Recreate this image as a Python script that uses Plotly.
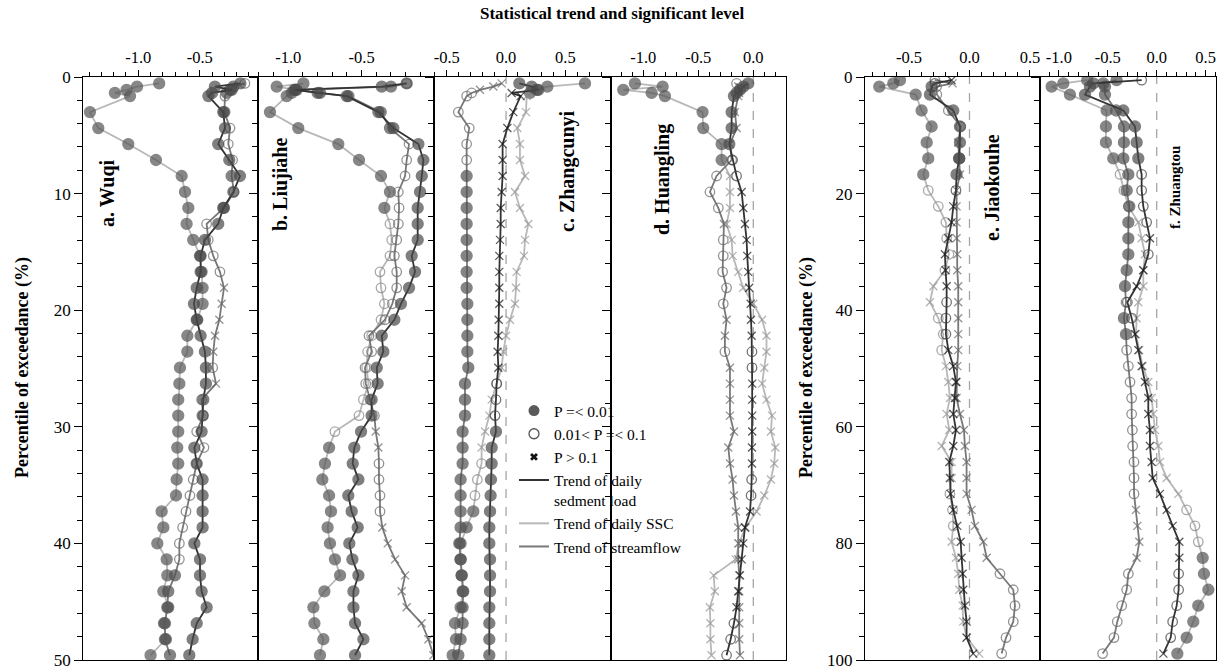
import plotly.graph_objects as go

# ---------------- data ----------------
# percentile of exceedance (%) of the plotted points
PCT_AD = [0.55, 0.82, 1.10, 1.37, 1.64, 3.01, 4.38, 5.75, 7.12, 8.49, 9.86, 11.23, 12.60, 13.97,
          15.34, 16.71, 18.08, 19.45, 20.82, 22.19, 23.56, 24.93, 26.30, 27.67, 29.04, 30.41,
          31.78, 33.15, 34.52, 35.89, 37.26, 38.63, 40.00, 41.37, 42.74, 44.11, 45.48, 46.85,
          48.22, 49.59]
PCT_EF = [0.55, 1.10, 1.64, 3.01, 5.75, 8.49, 11.23, 13.97, 16.71, 19.45, 22.19, 24.93, 27.67,
          30.41, 33.15, 35.89, 38.63, 41.37, 44.11, 46.85, 49.59, 52.33, 55.07, 57.81, 60.55,
          63.29, 66.03, 68.77, 71.51, 74.25, 76.99, 79.73, 82.47, 85.21, 87.95, 90.68, 93.42,
          96.16, 98.90]

# significance classes: f = P=<0.01, o = 0.01<P=<0.1, x = P>0.1
# a. Wuqi
WUQI_LOAD = [-0.17, -0.377, -0.24, -0.40, -0.43, -0.309, -0.295, -0.35, -0.26, -0.173, -0.227,
             -0.309, -0.35, -0.458, -0.493, -0.493, -0.525, -0.547, -0.525, -0.493, -0.458, -0.45,
             -0.45, -0.471, -0.477, -0.485, -0.544, -0.525, -0.477, -0.477, -0.477, -0.477, -0.544,
             -0.498, -0.498, -0.485, -0.444, -0.525, -0.558, -0.585]
WUQI_LOAD_P = "f" * 40
WUQI_SSC = [-0.83, -1.01, -1.095, -1.19, -1.067, -1.393, -1.325, -1.081, -0.856, -0.647, -0.62,
            -0.593, -0.607, -0.553, -0.498, -0.485, -0.477, -0.477, -0.52, -0.601, -0.601, -0.661,
            -0.666, -0.675, -0.675, -0.675, -0.683, -0.675, -0.688, -0.693, -0.81, -0.796, -0.845,
            -0.769, -0.764, -0.796, -0.756, -0.791, -0.775, -0.90]
WUQI_SSC_P = "f" * 40
WUQI_Q = [-0.133, -0.227, -0.254, -0.282, -0.295, -0.30, -0.254, -0.268, -0.233, -0.241, -0.222,
          -0.303, -0.444, -0.431, -0.39, -0.336, -0.303, -0.322, -0.341, -0.376, -0.39, -0.395,
          -0.368, -0.485, -0.471, -0.525, -0.466, -0.525, -0.553, -0.58, -0.612, -0.639, -0.666,
          -0.666, -0.702, -0.756, -0.764, -0.783, -0.783, -0.742]
WUQI_Q_P = "offfo" "fooofofoooo" "xxxxx" "o" "x" "ooooooooooo" "ffffff"

# b. Liujiahe
LIU_LOAD = [-0.193, -0.363, -0.959, -0.784, -0.602, -0.386, -0.284, -0.113, -0.079, -0.09, -0.102,
            -0.118, -0.118, -0.118, -0.159, -0.136, -0.177, -0.232, -0.277, -0.363, -0.352, -0.397,
            -0.391, -0.432, -0.432, -0.504, -0.55, -0.561, -0.522, -0.591, -0.568, -0.527, -0.584,
            -0.563, -0.522, -0.556, -0.556, -0.545, -0.488, -0.545]
LIU_LOAD_P = "f" * 40
LIU_SSC = [-0.897, -1.079, -0.943, -0.977, -1.011, -1.125, -0.932, -0.659, -0.518, -0.368, -0.307,
           -0.345, -0.307, -0.295, -0.307, -0.375, -0.368, -0.345, -0.368, -0.432, -0.459, -0.466,
           -0.454, -0.488, -0.518, -0.682, -0.722, -0.75, -0.768, -0.722, -0.709, -0.732, -0.716,
           -0.682, -0.647, -0.754, -0.829, -0.822, -0.761, -0.784]
LIU_SSC_P = "fffff" "fffffff" "oooo" "oooooooooo" "ffffffffffffff"
LIU_Q = [-0.193, -0.30, -0.95, -0.80, -0.59, -0.37, -0.307, -0.177, -0.193, -0.204, -0.25, -0.245,
         -0.25, -0.261, -0.277, -0.261, -0.261, -0.291, -0.341, -0.45, -0.432, -0.477, -0.472,
         -0.443, -0.413, -0.404, -0.386, -0.382, -0.382, -0.375, -0.375, -0.359, -0.322, -0.272,
         -0.204, -0.227, -0.193, -0.091, -0.045, -0.011]
LIU_Q_P = "offff" "ff" "ooooooooo" "ooooooooo" "xx" "oooo" "xxxxxxxxx"

# c. Zhangcunyi
ZH_LOAD = [0.112, 0.216, 0.272, 0.047, 0.123, 0.061, 0.011, -0.029, -0.029, -0.029, -0.037, -0.045,
           -0.045, -0.051, -0.057, -0.057, -0.057, -0.057, -0.062, -0.065, -0.071, -0.065, -0.079,
           -0.085, -0.093, -0.085, -0.121, -0.121, -0.127, -0.13, -0.135, -0.141, -0.141, -0.135,
           -0.135, -0.135, -0.141, -0.141, -0.141, -0.141]
ZH_LOAD_P = "fffxx" "xxxxxxxxxxx" "xxxxxx" "ooo" "fffffffffffffff"
ZH_SSC = [0.665, 0.348, 0.258, 0.202, 0.174, 0.168, 0.095, 0.117, 0.117, 0.16, 0.075, 0.117, 0.188,
          0.16, 0.151, 0.089, 0.084, 0.075, 0.033, 0.0, -0.023, -0.037, -0.079, -0.121, -0.141,
          -0.177, -0.206, -0.206, -0.242, -0.262, -0.276, -0.332, -0.383, -0.383, -0.374, -0.366,
          -0.383, -0.43, -0.422, -0.45]
ZH_SSC_P = "ffffx" "xxxxxxxxxxx" "xxxxxx" "o" "xxxx" "ooo" "ffffffffff"
ZH_Q = [-0.037, -0.107, -0.22, -0.29, -0.332, -0.402, -0.31, -0.332, -0.332, -0.332, -0.332,
        -0.332, -0.332, -0.332, -0.332, -0.332, -0.332, -0.326, -0.326, -0.326, -0.326, -0.318,
        -0.346, -0.346, -0.346, -0.366, -0.366, -0.366, -0.383, -0.383, -0.383, -0.383, -0.394,
        -0.383, -0.374, -0.36, -0.366, -0.366, -0.383, -0.402]
ZH_Q_P = "xxxoo" "oooo" + "f" * 31

# d. Huangling
HL_LOAD = [-0.046, -0.091, -0.121, -0.152, -0.176, -0.197, -0.197, -0.218, -0.188, -0.152, -0.106,
           -0.091, -0.076, -0.061, -0.055, -0.046, -0.037, -0.024, -0.021, -0.015, -0.012, -0.012,
           -0.01, -0.01, -0.01, -0.01, -0.012, -0.012, -0.015, -0.02, -0.03, -0.076, -0.091,
           -0.106, -0.121, -0.137, -0.152, -0.176, -0.206, -0.243]
HL_LOAD_P = "fffff" "fff" "oo" "xxxxxxxxxx" "oo" "xxxxxx" "oo" "xxxxxxx" "ooo"
HL_SSC = [-1.076, -0.824, -1.182, -0.924, -0.803, -0.461, -0.455, -0.288, -0.288, -0.212, -0.212,
          -0.212, -0.243, -0.197, -0.188, -0.137, -0.091, 0.0, 0.08, 0.12, 0.12, 0.10, 0.08, 0.12,
          0.17, 0.16, 0.20, 0.19, 0.16, 0.10, 0.03, -0.07, -0.13, -0.16, -0.36, -0.35, -0.395,
          -0.39, -0.39, -0.38]
HL_SSC_P = "fffff" "ffff" + "x" * 31
HL_Q = [-0.152, -0.137, -0.13, -0.13, -0.137, -0.167, -0.152, -0.212, -0.197, -0.334, -0.394,
        -0.318, -0.267, -0.273, -0.273, -0.279, -0.243, -0.273, -0.243, -0.258, -0.258, -0.212,
        -0.212, -0.212, -0.212, -0.176, -0.227, -0.212, -0.188, -0.176, -0.158, -0.137, -0.137,
        -0.137, -0.128, -0.128, -0.128, -0.128, -0.128, -0.121]
HL_Q_P = "oxxxx" "xxx" "oooo" "x" "ooooo" "xx" "o" + "x" * 19

# e. Jiaokouhe
JK_LOAD = [-0.148, -0.286, -0.313, -0.327, -0.134, -0.079, -0.079, -0.085, -0.107, -0.112, -0.134,
           -0.148, -0.175, -0.203, -0.198, -0.189, -0.189, -0.195, -0.195, -0.175, -0.134, -0.112,
           -0.12, -0.134, -0.112, -0.134, -0.167, -0.162, -0.156, -0.134, -0.101, -0.073, -0.065,
           -0.057, -0.052, -0.038, -0.024, -0.024, 0.031]
JK_LOAD_P = "xof" "ffffff" "o" "xxxxxx" "ooo" + "x" * 20
JK_SSC = [-0.575, -0.63, -0.746, -0.445, -0.396, -0.313, -0.354, -0.341, -0.382, -0.341, -0.258,
          -0.195, -0.189, -0.17, -0.203, -0.299, -0.327, -0.258, -0.217, -0.23, -0.195, -0.175,
          -0.162, -0.189, -0.167, -0.23, -0.148, -0.148, -0.162, -0.14, -0.134, -0.148, -0.112,
          -0.093, -0.085, -0.057, -0.052, -0.024, 0.081]
JK_SSC_P = "fff" "ffffff" "oooooo" "xx" "ooo" "xxxxxxxx" "ooo" "xxxxxxxx"
JK_Q = [-0.286, -0.14, -0.272, -0.27, -0.175, -0.073, -0.093, -0.085, -0.079, -0.107, -0.107,
        -0.107, -0.107, -0.101, -0.101, -0.093, -0.093, -0.093, -0.093, -0.093, -0.101, -0.107,
        -0.107, -0.079, -0.046, -0.038, -0.024, -0.024, -0.024, 0.017, 0.045, 0.114, 0.142, 0.252,
        0.362, 0.376, 0.362, 0.302, 0.266]
JK_Q_P = "oxo" "ooo" "x" "f" + "x" * 25 + "o" * 6

# f. Zhuangtou
ZT_LOAD = [-0.154, -0.648, -0.682, -0.733, -0.341, -0.222, -0.205, -0.188, -0.154, -0.154, -0.137,
           -0.103, -0.069, -0.086, -0.137, -0.205, -0.30, -0.256, -0.222, -0.188, -0.154, -0.12,
           -0.086, -0.086, -0.069, -0.069, -0.052, -0.041, 0.033, 0.102, 0.163, 0.231, 0.231, 0.224,
           0.224, 0.204, 0.163, 0.143, 0.068]
ZT_LOAD_P = "off" "fffff" "oooo" "x" "o" "xx" "oo" + "x" * 15 + "ooooo" "x"
ZT_SSC = [-0.71, -0.955, -1.074, -0.887, -0.512, -0.519, -0.519, -0.444, -0.375, -0.335, -0.29,
          -0.188, -0.154, -0.12, -0.137, -0.137, -0.188, -0.205, -0.212, -0.178, -0.144, -0.086,
          -0.052, -0.035, -0.018, 0.016, 0.033, 0.102, 0.221, 0.306, 0.391, 0.425, 0.47, 0.483,
          0.528, 0.425, 0.374, 0.306, 0.211]
ZT_SSC_P = "fff" "fffff" "ooo" + "x" * 18 + "ooo" + "f" * 7
ZT_Q = [-0.41, -0.546, -0.529, -0.529, -0.416, -0.335, -0.335, -0.341, -0.29, -0.307, -0.28, -0.29,
        -0.29, -0.29, -0.307, -0.324, -0.314, -0.335, -0.314, -0.307, -0.29, -0.273, -0.256,
        -0.256, -0.249, -0.246, -0.232, -0.232, -0.232, -0.212, -0.198, -0.178, -0.205, -0.29,
        -0.307, -0.358, -0.403, -0.437, -0.553]
ZT_Q_P = "fff" + "f" * 12 + "f" "o" "ff" + "o" * 10 + "xxxx" + "o" * 6

PANEL_LABELS = ["a. Wuqi", "b. Liujiahe", "c. Zhangcunyi", "d. Huangling", "e. Jiaokouhe", "f. Zhuangtou"]
X_TICKS = [[-1.0, -0.5], [-1.0, -0.5], [-0.5, 0.0, 0.5], [-1.0, -0.5, 0.0], [-0.5, 0.0, 0.5],
           [-1.0, -0.5, 0.0, 0.5]]
X_TICKTEXT = [["-1.0", "-0.5"], ["-1.0", "-0.5"], ["-0.5", "0.0", "0.5"], ["-1.0", "-0.5", "0.0"],
              ["-0.5", "0.0", "0.5"], ["-1.0", "-0.5", "0.0", "0.5"]]
Y_TICKS_AD = [0, 10, 20, 30, 40, 50]
Y_TICKS_EF = [0, 20, 40, 60, 80, 100]
LEGEND_NAMES = ["P =< 0.01", "0.01< P =< 0.1", "P > 0.1", "Trend of daily<br>sedment load",
                "Trend of daily SSC", "Trend of streamflow"]

PANELS = [
    (PCT_AD, [(WUQI_SSC, WUQI_SSC_P, "ssc"), (WUQI_Q, WUQI_Q_P, "flow"), (WUQI_LOAD, WUQI_LOAD_P, "load")]),
    (PCT_AD, [(LIU_SSC, LIU_SSC_P, "ssc"), (LIU_Q, LIU_Q_P, "flow"), (LIU_LOAD, LIU_LOAD_P, "load")]),
    (PCT_AD, [(ZH_SSC, ZH_SSC_P, "ssc"), (ZH_Q, ZH_Q_P, "flow"), (ZH_LOAD, ZH_LOAD_P, "load")]),
    (PCT_AD, [(HL_SSC, HL_SSC_P, "ssc"), (HL_Q, HL_Q_P, "flow"), (HL_LOAD, HL_LOAD_P, "load")]),
    (PCT_EF, [(JK_SSC, JK_SSC_P, "ssc"), (JK_Q, JK_Q_P, "flow"), (JK_LOAD, JK_LOAD_P, "load")]),
    (PCT_EF, [(ZT_SSC, ZT_SSC_P, "ssc"), (ZT_Q, ZT_Q_P, "flow"), (ZT_LOAD, ZT_LOAD_P, "load")]),
]

# ---------------- layout / style ----------------
W, H = 1225, 670
FONT = "Liberation Serif"


def fx(p):
    return p / W


def fy(p):
    return 1 - p / H


PANEL_PX = [(83.3, 258.3), (258.3, 434.0), (434.0, 610.7), (610.7, 785.7), (865.0, 1040.0), (1040.0, 1216.0)]
X_RANGES = [(-1.447, -0.024), (-1.2045, -0.0068), (-0.607, 0.8816), (-1.296, 0.2945), (-0.864, 0.583),
            (-1.193, 0.606)]
LABEL_POS = [(108, 193, 20), (280, 185, 20), (567, 171, 20), (662, 180, 20), (992, 188, 20), (1175, 188, 15)]
Y_DOM = [fy(660), fy(77)]

STYLE = {
    "load": dict(line="#333333", f="#4a4a4a", o="#3a3a3a", x="#151515"),
    "ssc": dict(line="#b8b8b8", f="#555555", o="#858585", x="#969696"),
    "flow": dict(line="#787878", f="#505050", o="#666666", x="#666666"),
}
SYM = {"f": "circle", "o": "circle-open", "x": "x-thin"}
SIZE = {"f": 11, "o": 9.5, "x": 8}

fig = go.Figure()

for i, (pct, series) in enumerate(PANELS):
    s = "" if i == 0 else str(i + 1)
    for vals, sig, kind in series:
        st = STYLE[kind]
        cols = [st[c] for c in sig]
        fig.add_trace(go.Scatter(
            x=vals, y=pct, mode="lines+markers", xaxis="x" + s, yaxis="y" + s,
            line=dict(color=st["line"], width=1.8),
            marker=dict(symbol=[SYM[c] for c in sig], size=[SIZE[c] for c in sig], color=cols,
                        line=dict(color=cols, width=1.3)),
            showlegend=False, hoverinfo="skip"))

# legend entries
leg_styles = [
    dict(mode="markers", marker=dict(symbol="circle", size=11, color="#5a5a5a")),
    dict(mode="markers", marker=dict(symbol="circle-open", size=10, color="#555555", line=dict(width=1.3))),
    dict(mode="markers", marker=dict(symbol="x", size=7, color="#111111", line=dict(width=0))),
    dict(mode="lines", line=dict(color="#333333", width=2)),
    dict(mode="lines", line=dict(color="#b8b8b8", width=2)),
    dict(mode="lines", line=dict(color="#787878", width=2)),
]
for name, st in zip(LEGEND_NAMES, leg_styles):
    fig.add_trace(go.Scatter(x=[None], y=[None], name=name, xaxis="x3", yaxis="y3", showlegend=True, **st))

layout = dict(
    width=W, height=H, margin=dict(l=0, r=0, t=0, b=0, pad=0, autoexpand=False), autosize=False,
    paper_bgcolor="white", plot_bgcolor="white",
    font=dict(family=FONT, color="black", size=15),
    showlegend=True,
    legend=dict(x=fx(514), y=fy(394), xanchor="left", yanchor="top", bgcolor="rgba(0,0,0,0)",
                font=dict(family=FONT, size=15.5), tracegroupgap=0, valign="top", itemwidth=30),
    annotations=[], shapes=[],
)

for i in range(6):
    s = "" if i == 0 else str(i + 1)
    l, r = PANEL_PX[i]
    right_group = i >= 4
    layout["xaxis" + s] = dict(
        domain=[fx(l), fx(r)], range=list(X_RANGES[i]), side="top", anchor="y" + s, automargin=False,
        showline=True, linecolor="black", linewidth=1.3, mirror=True,
        ticks="outside", ticklen=6, tickwidth=1.2, tickcolor="black",
        tickmode="array", tickvals=X_TICKS[i], ticktext=X_TICKTEXT[i],
        tickfont=dict(family=FONT, size=16.5), showgrid=False, zeroline=False,
        minor=dict(tickmode="linear", tick0=0, dtick=0.1, ticks="outside", ticklen=4, tickwidth=1,
                   tickcolor="black", showgrid=False),
    )
    layout["yaxis" + s] = dict(
        domain=Y_DOM, range=[100, 0] if right_group else [50, 0], anchor="x" + s, automargin=False,
        showline=True, linecolor="black", linewidth=1.3, mirror=True,
        ticks="outside", ticklen=8, tickwidth=1.2, tickcolor="black",
        tickmode="array", tickvals=Y_TICKS_EF if right_group else Y_TICKS_AD,
        showticklabels=(i in (0, 4)), tickfont=dict(family=FONT, size=17),
        showgrid=False, zeroline=False,
        minor=dict(tickmode="linear", tick0=0, dtick=4 if right_group else 2, ticks="outside",
                   ticklen=5, tickwidth=1, tickcolor="black", showgrid=False),
    )
    if i >= 2:
        layout["shapes"].append(dict(type="line", xref="x" + s, yref="y" + s + " domain", x0=0, x1=0,
                                     y0=0, y1=1, layer="below",
                                     line=dict(color="#a6a6a6", width=1.3, dash="dash")))
    lx, ly, lsz = LABEL_POS[i]
    layout["annotations"].append(dict(
        x=fx(lx), y=fy(ly), xref="paper", yref="paper", text="<b>%s</b>" % PANEL_LABELS[i],
        textangle=-90, showarrow=False, font=dict(family=FONT, size=lsz), xanchor="center", yanchor="middle"))

layout["annotations"].append(dict(
    x=fx(612), y=fy(13), xref="paper", yref="paper", text="<b>Statistical trend and significant level</b>",
    showarrow=False, font=dict(family=FONT, size=17), xanchor="center", yanchor="middle"))
for xp in (22, 806):
    layout["annotations"].append(dict(
        x=fx(xp), y=fy(368), xref="paper", yref="paper", text="<b>Percentile of exceedance (%)</b>",
        textangle=-90, showarrow=False, font=dict(family=FONT, size=18), xanchor="center", yanchor="middle"))

fig.update_layout(**layout)
fig.write_html("out.html", config={"responsive": False})
